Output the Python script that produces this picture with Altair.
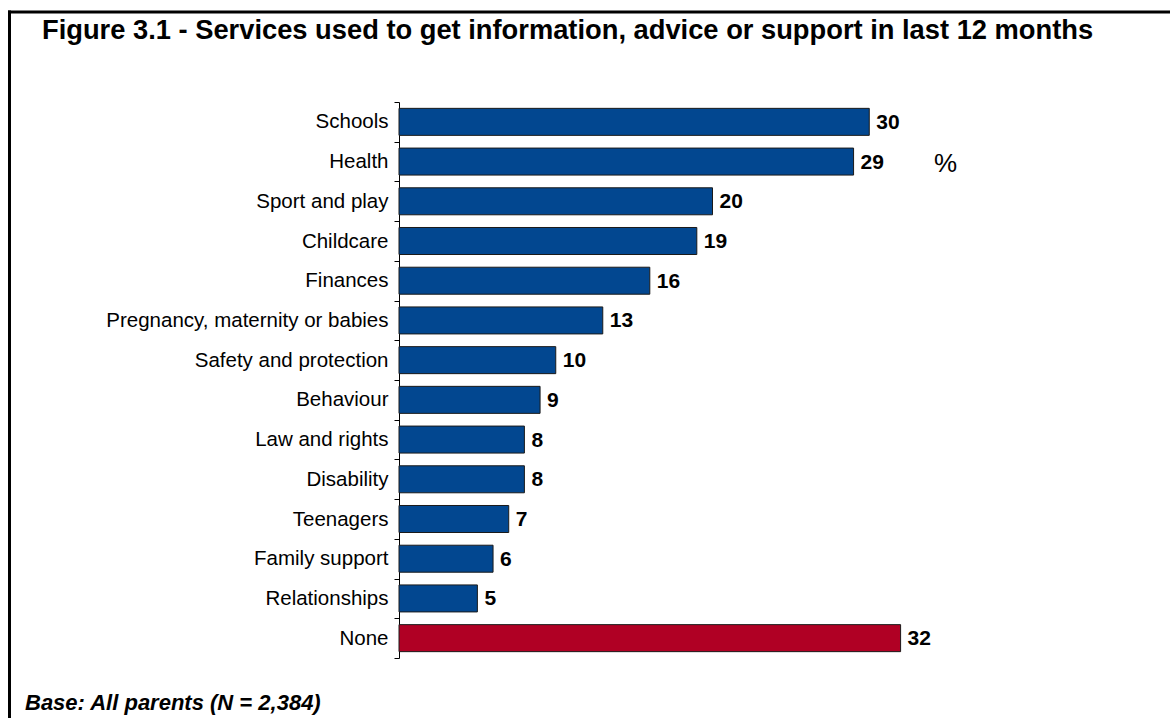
import altair as alt
import pandas as pd

categories = ["Schools", "Health", "Sport and play", "Childcare", "Finances",
              "Pregnancy, maternity or babies", "Safety and protection", "Behaviour",
              "Law and rights", "Disability", "Teenagers", "Family support",
              "Relationships", "None"]
values = [30, 29, 20, 19, 16, 13, 10, 9, 8, 8, 7, 6, 5, 32]
groups = ["service"] * 13 + ["none"]

title_text = "Figure 3.1 - Services used to get information, advice or support in last 12 months"
base_text = "Base: All parents (N = 2,384)"
unit_text = "%"

df = pd.DataFrame({"category": categories, "value": values, "group": groups})

FONT = "Liberation Sans"
PAD_L, PAD_T = 399, 102
W, H = 627, 556

y_enc = alt.Y("category:N", sort=categories,
              scale=alt.Scale(paddingInner=0, paddingOuter=0),
              axis=alt.Axis(title=None, tickBand="extent", labelFont=FONT,
                            labelFontSize=20.5, labelColor="black", labelPadding=6,
                            labelLimit=0,
                            domainColor="black", tickColor="black", tickSize=5,
                            domainWidth=1, tickWidth=1))
x_enc = alt.X("value:Q", scale=alt.Scale(domain=[0, 40]), axis=None)

bars = alt.Chart(df).mark_bar(height={"band": 0.68}, stroke="#1a1a1a",
                              strokeWidth=1).encode(
    y=y_enc, x=x_enc,
    color=alt.Color("group:N", scale=alt.Scale(domain=["service", "none"],
                                                range=["#024790", "#B00024"]),
                    legend=None))

labels = alt.Chart(df).mark_text(align="left", baseline="middle", dx=7, dy=1,
                                 font=FONT, fontSize=21, fontWeight="bold",
                                 color="black").encode(
    y=alt.Y("category:N", sort=categories), x="value:Q", text="value:Q")

title = alt.Chart(pd.DataFrame({"t": [title_text]})).mark_text(
    align="left", baseline="alphabetic", font=FONT, fontSize=27.3,
    fontWeight="bold", color="black").encode(
    x=alt.value(42 - PAD_L), y=alt.value(39 - PAD_T), text="t:N")

base = alt.Chart(pd.DataFrame({"t": [base_text]})).mark_text(
    align="left", baseline="alphabetic", font=FONT, fontSize=22,
    fontWeight="bold", fontStyle="italic", color="black").encode(
    x=alt.value(25 - PAD_L), y=alt.value(710 - PAD_T), text="t:N")

unit = alt.Chart(pd.DataFrame({"t": [unit_text]})).mark_text(
    align="left", baseline="alphabetic", font=FONT, fontSize=26,
    color="black").encode(
    x=alt.value(934 - PAD_L), y=alt.value(172 - PAD_T), text="t:N")

border_top = alt.Chart(pd.DataFrame({"a": [0]})).mark_rule(
    color="black", strokeWidth=3).encode(
    x=alt.value(8 - PAD_L), x2=alt.value(1170 - PAD_L),
    y=alt.value(12 - PAD_T))
border_left = alt.Chart(pd.DataFrame({"a": [0]})).mark_rule(
    color="black", strokeWidth=3).encode(
    x=alt.value(9.5 - PAD_L), y=alt.value(10.5 - PAD_T), y2=alt.value(718 - PAD_T))

chart = alt.layer(bars, labels, title, base, unit, border_top, border_left).properties(
    width=W, height=H,
    padding={"left": PAD_L, "top": PAD_T, "right": 1170 - PAD_L - W,
             "bottom": 718 - PAD_T - H},
    autosize=alt.AutoSizeParams(type="none"),
    background="white",
).configure_view(stroke=None)

chart.save("out.html", embed_options={"renderer": "svg", "actions": False})
